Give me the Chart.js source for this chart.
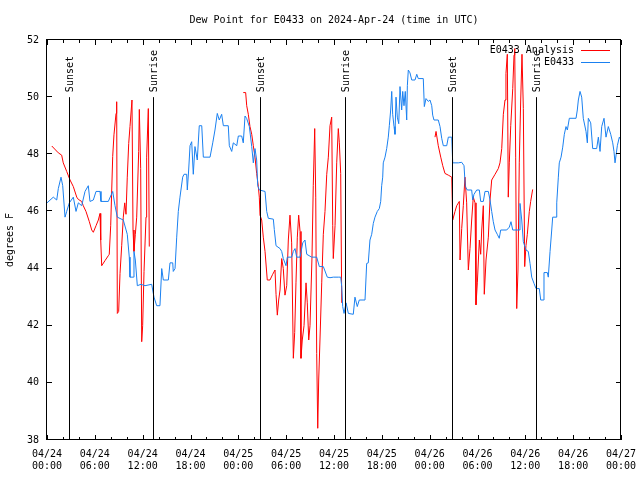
<!DOCTYPE html>
<html lang="en">
<head>
    <meta charset="UTF-8">
    <title>Dew Point for E0433</title>
    <script src="https://cdn.jsdelivr.net/npm/chart.js"></script>
    <style>
        body { margin: 0; background: #ffffff; }
        canvas { display: block; }
    </style>
</head>
<body>
    <canvas id="dewpoint" width="640" height="480"></canvas>
    <script>
        // hours since 2024-04-24 00:00 UTC
        const xTickHours = [0, 6, 12, 18, 24, 30, 36, 42, 48, 54, 60, 66, 72];
        const xTickLabels = [
            ['04/24', '00:00'], ['04/24', '06:00'], ['04/24', '12:00'], ['04/24', '18:00'],
            ['04/25', '00:00'], ['04/25', '06:00'], ['04/25', '12:00'], ['04/25', '18:00'],
            ['04/26', '00:00'], ['04/26', '06:00'], ['04/26', '12:00'], ['04/26', '18:00'],
            ['04/27', '00:00']
        ];
        const yTicks = [38, 40, 42, 44, 46, 48, 50, 52];

        const sunHours = [2.7, 13.3, 26.75, 37.4, 50.8, 61.4];
        const sunLabels = ['Sunset', 'Sunrise', 'Sunset', 'Sunrise', 'Sunset', 'Sunrise'];

        // observed dew point (E0433)
        const obsHours = [0, 0.79, 1.22, 1.42, 1.76, 1.97, 2.26, 2.47, 2.8, 3.3, 3.64, 3.93, 4.35, 4.77, 5.18, 5.39, 5.81, 6.15, 6.65, 6.77,
            7.69, 8.24, 8.53, 8.82, 9.57, 10.07, 10.32, 10.41, 10.83, 10.91, 11.08, 11.33, 11.79, 12.29, 13.13, 13.26, 13.42, 13.76, 14.17, 14.39,
            14.59, 15.22, 15.43, 15.77, 15.84, 16.06, 16.27, 16.47, 16.68, 17.02, 17.19, 17.52, 17.6, 17.77, 17.94, 18.15, 18.35, 18.56, 18.85, 19.1,
            19.41, 19.61, 20.45, 20.79, 21.07, 21.36, 21.61, 21.91, 22.12, 22.74, 22.87, 23.17, 23.37, 23.8, 24.0, 24.42, 24.62, 24.84, 25.05, 25.38,
            25.68, 25.88, 26.09, 26.3, 26.43, 26.63, 27.35, 27.56, 27.76, 28.39, 28.51, 28.73, 29.23, 29.44, 29.64, 29.98, 30.14, 30.69, 30.9, 31.11,
            31.32, 31.74, 32.08, 32.36, 32.58, 33.2, 33.83, 34.16, 34.66, 35.16, 35.5, 35.91, 36.54, 36.84, 36.97, 37.09, 37.26, 37.51, 37.8, 38.42,
            38.63, 38.92, 39.17, 39.89, 40.1, 40.3, 40.51, 40.73, 40.93, 41.14, 41.43, 41.68, 41.86, 41.98, 42.11, 42.18, 42.4, 42.61, 42.81, 42.94,
            43.11, 43.24, 43.36, 43.53, 43.65, 43.78, 43.94, 44.12, 44.28, 44.49, 44.62, 44.78, 44.94, 45.12, 45.2, 45.32, 45.53, 45.75, 46.16, 46.38,
            46.57, 47.2, 47.33, 47.54, 47.83, 48.04, 48.26, 48.38, 48.54, 49.08, 49.3, 49.51, 49.71, 50.14, 50.34, 50.77, 50.89, 51.59, 52.02, 52.31,
            52.47, 52.72, 53.27, 53.4, 53.56, 53.9, 54.23, 54.4, 54.73, 54.94, 55.36, 55.57, 55.78, 55.98, 56.2, 56.48, 56.73, 56.91, 57.66, 57.99,
            58.2, 58.42, 59.24, 59.33, 59.55, 59.75, 60.08, 60.37, 60.59, 60.8, 61.09, 61.34, 61.75, 61.93, 62.26, 62.34, 62.76, 62.88, 63.1, 63.31,
            63.43, 63.85, 63.94, 64.14, 64.26, 64.48, 64.69, 64.89, 65.1, 65.27, 65.52, 66.36, 66.52, 66.65, 66.86, 67.07, 67.27, 67.61, 67.78, 67.9,
            68.2, 68.45, 68.95, 69.16, 69.37, 69.58, 69.87, 70.12, 70.41, 70.71, 70.96, 71.12, 71.25, 71.54, 71.79, 72];
        const obsValues = [46.3, 46.5, 46.4, 46.8, 47.2, 46.9, 45.8, 46.0, 46.3, 46.5, 46.0, 46.3, 46.2, 46.7, 46.9, 46.35, 46.4, 46.7, 46.7, 46.35,
            46.35, 46.7, 46.2, 45.8, 45.7, 45.2, 44.4, 43.7, 43.7, 44.6, 44.3, 43.4, 43.45, 43.4, 43.45, 43.25, 43.0, 42.7, 42.7, 44.0,
            43.6, 43.6, 44.2, 44.2, 43.9, 44.0, 45.1, 46.0, 46.5, 47.2, 47.3, 47.3, 46.75, 47.45, 48.3, 48.44, 47.3, 48.27, 47.8, 49.0,
            49.0, 47.9, 47.9, 48.4, 48.85, 49.43, 49.2, 49.4, 49.0, 49.0, 48.3, 48.1, 48.4, 48.3, 48.64, 48.64, 48.4, 49.34, 49.25, 48.97,
            48.27, 47.7, 48.2, 47.8, 46.9, 46.75, 46.7, 46.0, 45.76, 45.73, 45.37, 44.8, 44.7, 44.6, 44.35, 44.1, 44.4, 44.4, 44.6, 44.7,
            44.4, 44.4, 44.9, 45.0, 44.5, 44.4, 44.4, 44.07, 44.07, 43.7, 43.68, 43.7, 43.7, 43.7, 43.37, 42.67, 42.43, 42.8, 42.43, 42.4,
            43.0, 42.67, 42.9, 42.9, 44.18, 44.2, 45.0, 45.2, 45.58, 45.8, 46.0, 46.1, 46.35, 46.9, 47.2, 47.7, 47.9, 48.2, 48.6, 49.0,
            49.55, 50.2, 49.4, 48.97, 48.7, 50.0, 49.3, 49.07, 50.37, 49.55, 50.2, 49.7, 50.2, 49.2, 50.4, 50.95, 50.85, 50.6, 50.6, 50.8,
            50.65, 50.65, 49.67, 49.95, 49.85, 49.9, 49.7, 49.37, 49.2, 49.2, 48.97, 48.56, 48.3, 48.3, 48.6, 48.6, 47.7, 47.7, 47.72, 47.6,
            46.87, 46.75, 46.75, 46.4, 46.6, 46.75, 46.75, 46.35, 46.35, 46.7, 46.7, 46.4, 46.0, 45.64, 45.35, 45.2, 45.06, 45.35, 45.35, 45.45,
            45.64, 45.35, 45.35, 46.28, 45.7, 44.94, 44.65, 44.6, 44.18, 43.7, 43.48, 43.3, 43.3, 42.9, 42.9, 43.86, 43.86, 43.7, 44.6, 45.35,
            45.8, 45.8, 46.3, 47.2, 47.7, 47.9, 48.25, 48.7, 48.97, 48.85, 49.26, 49.26, 49.55, 49.9, 50.2, 50.0, 49.26, 48.8, 48.4, 49.26,
            49.1, 48.2, 48.2, 48.6, 48.1, 48.97, 49.26, 48.6, 48.97, 48.7, 48.4, 48.1, 47.7, 48.3, 48.6, 48.5];

        // analysis dew point (E0433 Analysis), null = no analysis
        const anaHours = [0.6, 1.42, 1.84, 2.04, 2.47, 2.89, 3.3, 3.73, 3.93, 4.35, 4.55, 4.89, 5.31, 5.61, 5.81, 6.15, 6.44, 6.65, 6.74, 6.86,
            7.28, 7.69, 7.81, 7.99, 8.24, 8.4, 8.66, 8.74, 8.82, 8.99, 9.16, 9.37, 9.57, 9.75, 9.91, 10.07, 10.25, 10.41, 10.66, 10.79,
            10.91, 11.08, 11.25, 11.5, 11.58, 11.75, 11.88, 12.0, 12.17, 12.42, 12.5, 12.71, 12.83,
            18,
            24.62, 24.92, 25.05, 25.25, 25.46, 25.68, 25.88, 26.09, 26.3, 26.51, 26.63, 26.72, 26.93, 27.13, 27.35, 27.63, 27.97, 28.31, 28.6, 28.73,
            28.89, 29.06, 29.23, 29.44, 29.64, 29.85, 30.07, 30.27, 30.48, 30.69, 30.9, 31.07, 31.23, 31.4, 31.57, 31.74, 31.86, 32.02, 32.24, 32.49,
            32.65, 32.83, 32.99, 33.24, 33.4, 33.58, 33.71, 33.83, 33.96, 34.08, 34.24, 34.46, 34.66, 34.87, 35.09, 35.29, 35.5, 35.71, 35.84, 35.91,
            36.13, 36.34, 36.54, 36.67, 36.84, 36.97,
            42,
            48.67, 48.8, 49.08, 49.39, 49.64, 49.92, 50.34, 50.77, 50.89, 51.18, 51.39, 51.72, 51.81, 52.02, 52.22, 52.43, 52.64, 52.85, 53.06, 53.27,
            53.47, 53.69, 53.81, 53.98, 54.23, 54.4, 54.53, 54.73, 54.85, 55.07, 55.36, 55.57, 55.78, 56.2, 56.61, 56.82, 57.04, 57.24, 57.45, 57.57,
            57.74, 57.86, 57.99, 58.17, 58.42, 58.58, 58.67, 58.79, 58.92, 59.08, 59.24, 59.42, 59.58, 59.75, 59.92, 60.08, 60.25, 60.5, 60.67, 60.92];
        const anaValues = [48.29, 48.05, 47.97, 47.7, 47.4, 47.1, 46.87, 46.5, 46.42, 46.35, 46.2, 46.0, 45.64, 45.35, 45.27, 45.5, 45.7, 45.93, 45.0, 44.1,
            44.28, 44.45, 44.5, 45.5, 47.92, 48.68, 49.43, 49.84, 42.43, 42.5, 43.83, 44.8, 45.8, 46.3, 45.9, 47.2, 48.38, 48.97, 49.9, 45.35,
            44.6, 45.2, 45.8, 48.1, 49.57, 47.5, 41.44, 42.0, 43.9, 45.8, 47.9, 49.6, 44.77,
            null,
            50.16, 50.16, 49.7, 49.4, 48.97, 48.7, 48.3, 47.9, 47.33, 46.87, 46.5, 45.87, 45.7, 45.1, 44.6, 43.6, 43.6, 43.8, 43.95, 43.1,
            42.37, 42.9, 43.25, 44.35, 44.0, 43.07, 43.4, 45.0, 45.87, 44.9, 40.86, 41.76, 43.5, 45.1, 45.87, 45.3, 40.86, 41.5, 42.0, 43.5,
            42.8, 41.5, 42.0, 44.4, 46.9, 48.9, 46.5, 41.03, 38.41, 40.1, 41.5, 43.5, 45.2, 46.0, 47.3, 47.9, 49.0, 49.3, 45.5, 44.35,
            45.5, 47.7, 48.9, 48.4, 47.33, 42.8,
            null,
            48.6, 48.8, 48.3, 47.9, 47.6, 47.33, 47.27, 47.2, 45.7, 46.0, 46.2, 46.35, 44.3, 45.4, 46.2, 47.2, 46.3, 43.95, 44.7, 45.7,
            46.5, 46.3, 42.73, 43.5, 45.0, 44.5, 45.35, 46.2, 43.1, 44.3, 45.1, 46.4, 47.1, 47.3, 47.5, 47.7, 48.2, 49.4, 49.9, 50.83,
            51.5, 46.5, 47.7, 49.0, 50.3, 51.47, 51.7, 47.9, 42.6, 43.95, 47.7, 49.9, 51.5, 49.6, 44.07, 44.8, 45.2, 46.0, 46.35, 46.77];

        const FONT = { family: "'DejaVu Sans Mono', monospace", size: 10 };
        const FONT_CSS = "10px 'DejaVu Sans Mono', monospace";
        const RED = '#ff0000';
        const BLUE = '#1a80f0';

        function toPoints(xs, ys) {
            return xs.map((x, i) => ({ x: x, y: ys[i] }));
        }

        // gnuplot style frame, inward ticks, sun lines, legend and title
        const gnuplotDecor = {
            id: 'gnuplotDecor',
            afterDatasetsDraw(chart) {
                const ctx = chart.ctx;
                const xs = chart.scales.x;
                const ys = chart.scales.y;
                const top = ys.getPixelForValue(52);
                const bottom = ys.getPixelForValue(38);
                const left = xs.getPixelForValue(0);
                const right = xs.getPixelForValue(72);
                ctx.save();
                ctx.strokeStyle = '#000';
                ctx.fillStyle = '#000';
                ctx.lineWidth = 1;

                // sunrise / sunset markers
                ctx.font = FONT_CSS;
                sunHours.forEach((h, i) => {
                    const px = Math.round(xs.getPixelForValue(h)) + 0.5;
                    const y0 = ys.getPixelForValue(50);
                    ctx.beginPath();
                    ctx.moveTo(px, y0);
                    ctx.lineTo(px, bottom);
                    ctx.stroke();
                    ctx.save();
                    ctx.translate(px + 1, y0 - 5);
                    ctx.rotate(-Math.PI / 2);
                    ctx.textAlign = 'left';
                    ctx.textBaseline = 'middle';
                    ctx.fillText(sunLabels[i], 0, 0);
                    ctx.restore();
                });

                // frame
                ctx.strokeRect(Math.round(left) - 0.5, Math.round(top) - 0.5, Math.round(right - left), Math.round(bottom - top));

                // x ticks (major every 6 h, minor every 2 h), y ticks both sides
                ctx.beginPath();
                for (let h = 0; h <= 72; h += 2) {
                    const px = Math.round(xs.getPixelForValue(h)) + 0.5;
                    const len = h % 6 === 0 ? 5 : 3;
                    ctx.moveTo(px, bottom);
                    ctx.lineTo(px, bottom - len);
                    ctx.moveTo(px, top);
                    ctx.lineTo(px, top + len);
                }
                yTicks.forEach(v => {
                    const py = Math.round(ys.getPixelForValue(v)) - 0.5;
                    ctx.moveTo(left, py);
                    ctx.lineTo(left + 5, py);
                    ctx.moveTo(right, py);
                    ctx.lineTo(right - 5, py);
                });
                ctx.stroke();

                // legend
                const legend = [['E0433 Analysis', RED, 50], ['E0433', BLUE, 62]];
                ctx.textAlign = 'right';
                ctx.textBaseline = 'middle';
                legend.forEach(([text, color, y]) => {
                    ctx.fillStyle = '#000';
                    ctx.fillText(text, 574, y);
                    ctx.strokeStyle = color;
                    ctx.beginPath();
                    ctx.moveTo(581, y + 0.5);
                    ctx.lineTo(610, y + 0.5);
                    ctx.stroke();
                });

                // title
                ctx.fillStyle = '#000';
                ctx.textAlign = 'center';
                ctx.fillText('Dew Point for E0433 on 2024-Apr-24 (time in UTC)', (left + right) / 2, 20);
                ctx.restore();
            }
        };

        const ctx = document.getElementById('dewpoint').getContext('2d');
        new Chart(ctx, {
            type: 'line',
            data: {
                datasets: [
                    {
                        label: 'E0433 Analysis',
                        data: toPoints(anaHours, anaValues),
                        borderColor: RED,
                        borderWidth: 1,
                        pointRadius: 0,
                        spanGaps: false,
                        order: 1
                    },
                    {
                        label: 'E0433',
                        data: toPoints(obsHours, obsValues),
                        borderColor: BLUE,
                        borderWidth: 1,
                        pointRadius: 0,
                        order: 0
                    }
                ]
            },
            options: {
                responsive: false,
                animation: false,
                events: [],
                layout: { padding: { top: 40, right: 19, left: 0, bottom: 0 } },
                plugins: {
                    legend: { display: false },
                    tooltip: { enabled: false },
                    title: { display: false }
                },
                scales: {
                    x: {
                        type: 'linear',
                        min: 0,
                        max: 72,
                        afterBuildTicks: s => { s.ticks = xTickHours.map(v => ({ value: v })); },
                        afterFit: s => {
                            s.height = 40;
                            s.paddingLeft = 0;
                            s.paddingRight = 0;
                        },
                        ticks: {
                            autoSkip: false,
                            maxRotation: 0,
                            padding: 8,
                            color: '#000',
                            font: FONT,
                            callback: (v, i) => xTickLabels[i]
                        },
                        grid: { display: false, drawTicks: false },
                        border: { display: false }
                    },
                    y: {
                        min: 38,
                        max: 52,
                        afterBuildTicks: s => { s.ticks = yTicks.map(v => ({ value: v })); },
                        afterFit: s => {
                            s.width = 47;
                            s.paddingTop = 0;
                            s.paddingBottom = 0;
                        },
                        ticks: { padding: 8, color: '#000', font: FONT },
                        grid: { display: false, drawTicks: false },
                        border: { display: false },
                        title: {
                            display: true,
                            text: 'degrees F',
                            color: '#000',
                            font: FONT,
                            padding: { top: 4, bottom: 0 }
                        }
                    }
                }
            },
            plugins: [gnuplotDecor]
        });
    </script>
</body>
</html>
